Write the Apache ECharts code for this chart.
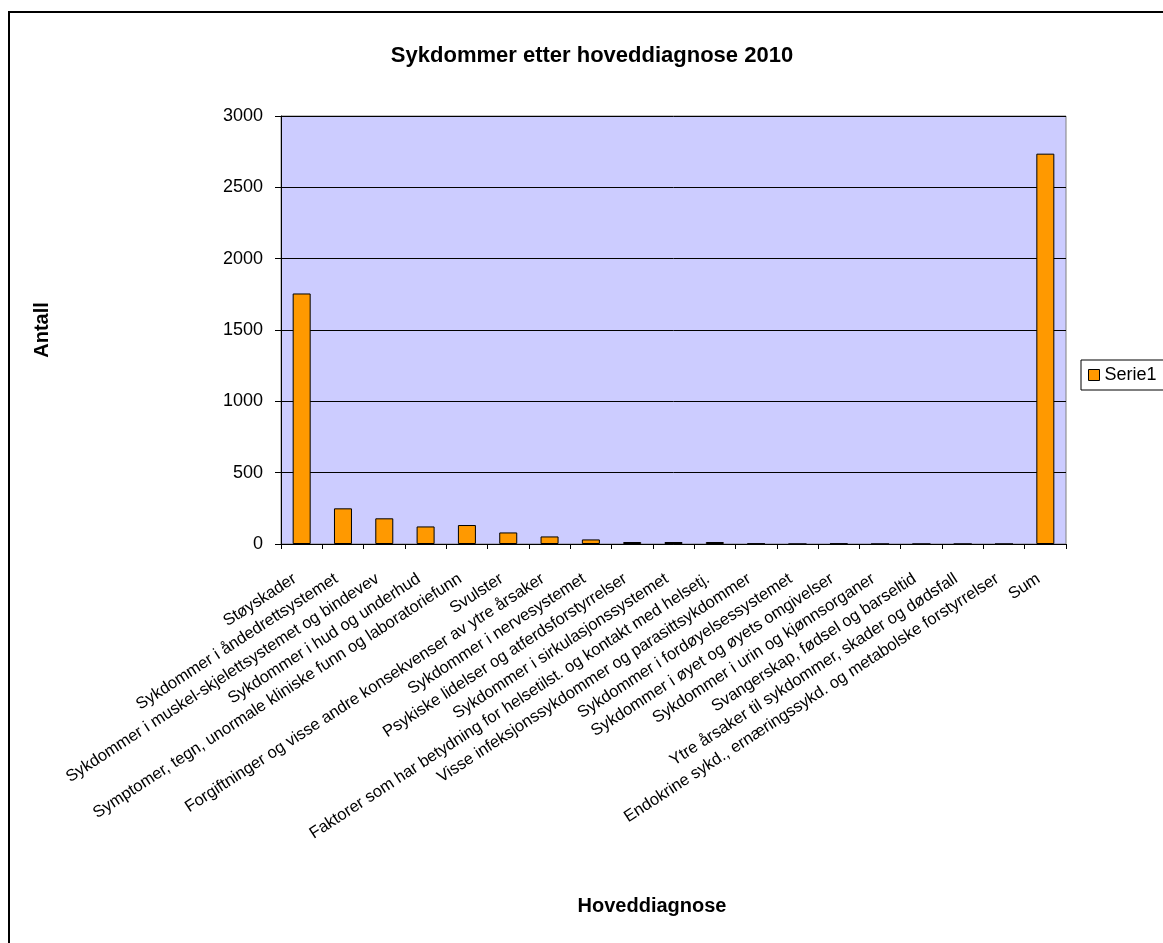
<!DOCTYPE html>
<html>
<head>
<meta charset="utf-8">
<script src="https://cdn.jsdelivr.net/npm/echarts@6/dist/echarts.min.js"></script>
<style>
html,body{margin:0;padding:0;background:#fff;}
#chart{width:1163px;height:943px;}
</style>
</head>
<body>
<div id="chart"></div>
<script>
const categories = [
  "Støyskader",
  "Sykdommer i åndedrettsystemet",
  "Sykdommer i muskel-skjelettsystemet og bindevev",
  "Sykdommer i hud og underhud",
  "Symptomer, tegn, unormale kliniske funn og laboratoriefunn",
  "Svulster",
  "Forgiftninger og visse andre konsekvenser av ytre årsaker",
  "Sykdommer i nervesystemet",
  "Psykiske lidelser og atferdsforstyrrelser",
  "Sykdommer i sirkulasjonssystemet",
  "Faktorer som har betydning for helsetilst. og kontakt med helsetj.",
  "Visse infeksjonssykdommer og parasittsykdommer",
  "Sykdommer i fordøyelsessystemet",
  "Sykdommer i øyet og øyets omgivelser",
  "Sykdommer i urin og kjønnsorganer",
  "Svangerskap, fødsel og barseltid",
  "Ytre årsaker til sykdommer, skader og dødsfall",
  "Endokrine sykd., ernæringssykd. og metabolske forstyrrelser",
  "Sum"
];
const serie1 = [1756, 250, 180, 123, 133, 81, 53, 32, 14, 14, 14, 3, 0, 3, 0, 0, 0, 0, 2736];
const yTicks = { min: 0, max: 3000, interval: 500 };

const FONT = "'Liberation Sans', Arial, sans-serif";
const chart = echarts.init(document.getElementById('chart'));
chart.setOption({
  backgroundColor: '#ffffff',
  animation: false,
  title: {
    text: 'Sykdommer etter hoveddiagnose 2010',
    left: 587, top: 40, textAlign: 'center',
    textStyle: { fontFamily: FONT, fontSize: 22, fontWeight: 'bold', color: '#000' }
  },
  legend: {
    data: ['Serie1'],
    left: 1081, top: 360,
    orient: 'vertical',
    borderColor: '#000', borderWidth: 1,
    padding: [6, 8, 6, 7],
    itemWidth: 11, itemHeight: 11, itemGap: 6,
    icon: 'rect',
    textStyle: { fontFamily: FONT, fontSize: 18, color: '#000' },
    itemStyle: { borderColor: '#000', borderWidth: 1 }
  },
  grid: {
    left: 281, top: 116, width: 785, height: 428,
    show: true, backgroundColor: '#CCCCFF', borderColor: '#808080', borderWidth: 1,
    containLabel: false
  },
  xAxis: {
    type: 'category',
    data: categories,
    boundaryGap: true,
    axisLine: { lineStyle: { color: '#000', width: 1 } },
    axisTick: { show: true, alignWithLabel: false, length: 5, lineStyle: { color: '#000' } },
    axisLabel: {
      interval: 0, rotate: 33, margin: 29, padding: [0, 8, 0, 0],
      fontFamily: FONT, fontSize: 16.5, color: '#000'
    }
  },
  yAxis: {
    type: 'value',
    min: yTicks.min, max: yTicks.max, interval: yTicks.interval,
    name: 'Antall',
    nameLocation: 'middle', nameGap: 229, nameRotate: 90,
    nameTextStyle: { fontFamily: FONT, fontSize: 20, fontWeight: 'bold', color: '#000' },
    axisLine: { show: true, lineStyle: { color: '#000', width: 1 } },
    axisTick: { show: true, length: 6, lineStyle: { color: '#000' } },
    axisLabel: { margin: 18, fontFamily: FONT, fontSize: 18, color: '#000', formatter: function (v) { return String(v); } },
    splitLine: { show: true, lineStyle: { color: '#000', width: 1 } }
  },
  series: [{
    name: 'Serie1',
    type: 'bar',
    data: serie1,
    barWidth: 18,
    itemStyle: { color: '#FF9900', borderColor: '#000', borderWidth: 1 }
  }],
  graphic: [
    {
      type: 'rect', silent: true, z: -10,
      shape: { x: 9, y: 12, width: 1300, height: 1100 },
      style: { fill: 'none', stroke: '#000', lineWidth: 2 }
    },
    {
      type: 'text', x: 652, y: 906,
      style: { text: 'Hoveddiagnose', align: 'center', verticalAlign: 'middle', fontFamily: FONT, fontSize: 20, fontWeight: 'bold', fill: '#000' }
    }
  ]
});
</script>
</body>
</html>
